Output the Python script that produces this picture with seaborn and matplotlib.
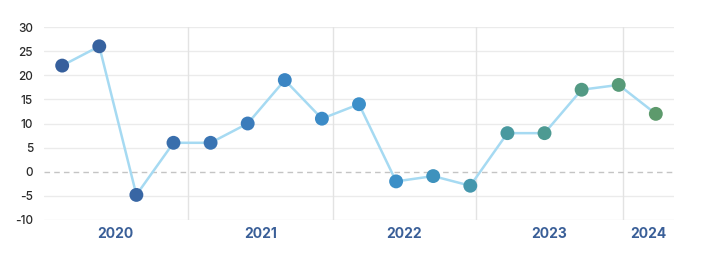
import matplotlib
matplotlib.use("Agg")
import matplotlib.pyplot as plt
import seaborn as sns
import pandas as pd
import numpy as np

# ---- data ----
values = [22, 26, -4.8, 6, 6, 10, 19, 11, 14, -2, -0.9, -2.9, 8, 8, 17, 18, 12]
point_colors = ["#365f9c", "#37629f", "#3866a4", "#396eac", "#3a74b3", "#3b7cbb",
                "#3b85c3", "#3c8bc7", "#3c8fc9", "#3b8fc7", "#3e92bd", "#4597ad",
                "#49999f", "#4d9a92", "#539a84", "#579a78", "#5d9a6c"]
year_labels = ["2020", "2021", "2022", "2023", "2024"]
year_bounds = [3.38, 7.30, 11.14, 15.12]  # year boundaries in point-index units
y_ticks = [-10, -5, 0, 5, 10, 15, 20, 25, 30]

df = pd.DataFrame({"idx": np.arange(len(values)), "val": values})

sns.set_theme(style="white")
plt.rcParams["font.family"] = ["Inter", "DejaVu Sans"]

fig = plt.figure(figsize=(7.01, 2.66), dpi=100)
ax = fig.add_axes([44/701, 1-220/266, (674-44)/701, (220-27)/266])

xmin, xmax = -0.49, 16.49
ax.set_xlim(xmin, xmax)
ax.set_ylim(-10, 30)

# grid
for t in y_ticks:
    if t == 0:
        continue
    ax.axhline(t, color="#ebebeb", lw=1, zorder=0)
for b in year_bounds:
    ax.axvline(b, color="#e3e3e3", lw=1, zorder=0)
ax.axhline(0, color="#c4c4c4", lw=1, ls=(0, (4, 3)), zorder=1)

sns.lineplot(data=df, x="idx", y="val", ax=ax, color="#a6daf2", lw=1.8, zorder=2)
sns.scatterplot(data=df, x="idx", y="val", ax=ax, hue="idx",
                palette=point_colors, s=100, edgecolor="none", legend=False, zorder=3)

ax.set_yticks(y_ticks)
ax.set_yticklabels([str(t) for t in y_ticks], fontsize=8.5, color="#2a2a2a",
                   fontweight="medium")
ax.tick_params(axis="y", length=0, pad=8)

edges = [xmin] + year_bounds + [xmax]
centers = [(edges[i] + edges[i+1]) / 2 for i in range(len(year_labels))]
ax.set_xticks(centers)
ax.set_xticklabels(year_labels, fontsize=10, fontweight="bold", color="#3a5f98")
ax.tick_params(axis="x", length=0, pad=5)
ax.set_xlabel("")
ax.set_ylabel("")
for s in ax.spines.values():
    s.set_visible(False)

fig.savefig("out.png", dpi=100)
